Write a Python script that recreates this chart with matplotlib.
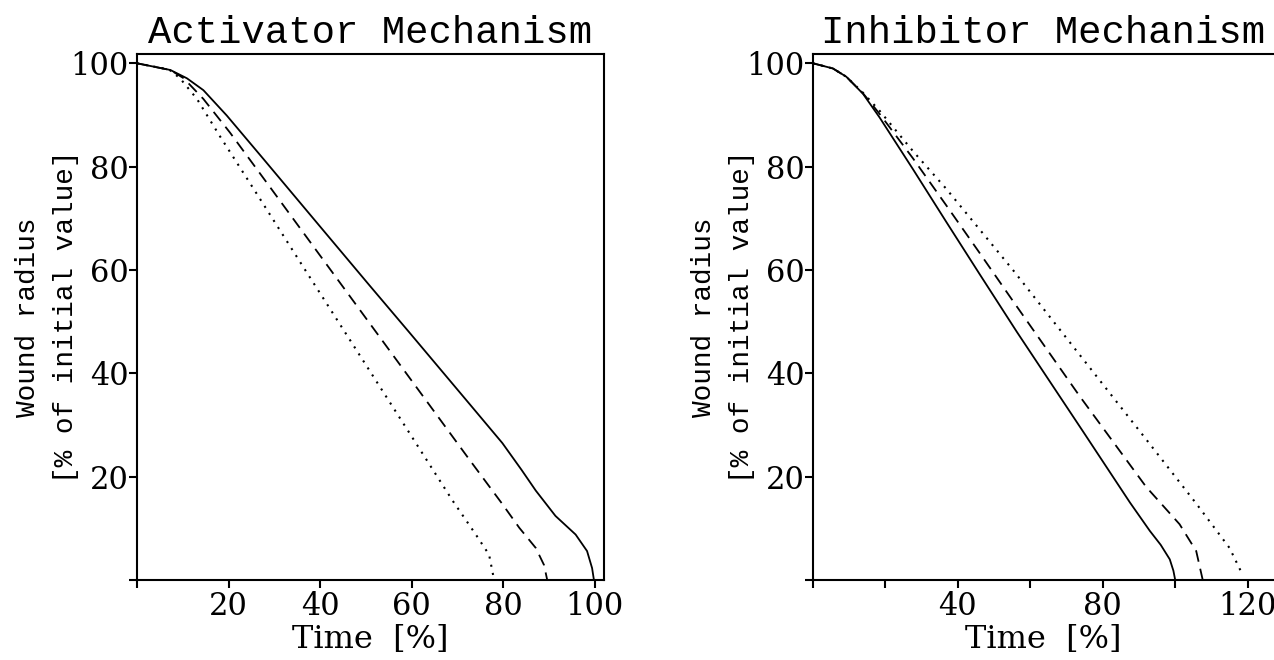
import matplotlib
matplotlib.use("Agg")
from matplotlib import pyplot as plt

# activator mechanism (time %, radius %)
act_solid_t = [0, 7.3, 10.9, 14.5, 19.6, 27.6, 39.9, 50.8, 59.5, 72.6, 79.8, 84.0, 87.1, 91.4, 95.8, 98.3, 99.4, 99.8]
act_solid_r = [100, 98.7, 97.1, 94.8, 89.9, 81.5, 68.5, 57.0, 47.9, 34.1, 26.5, 21.3, 17.3, 12.4, 8.8, 5.6, 2.3, 0]
act_dash_t = [0, 7.3, 10.2, 14.5, 20.3, 29.0, 39.9, 50.8, 61.7, 72.6, 79.8, 83.5, 87.1, 88.9, 89.6]
act_dash_r = [100, 98.7, 97.1, 93.1, 86.6, 76.1, 62.9, 49.7, 36.5, 23.3, 14.7, 10.1, 6.2, 2.9, 0]
act_dot_t = [0, 7.0, 9.4, 13.1, 18.1, 25.4, 36.3, 47.2, 58.1, 68.9, 74.0, 76.9, 78.0]
act_dot_r = [100, 98.8, 97.1, 93.1, 85.9, 75.8, 60.6, 45.5, 30.4, 15.4, 8.8, 4.9, 0]

# inhibitor mechanism
inh_solid_t = [0, 5.5, 9.2, 13.8, 18.4, 27.6, 36.8, 46.0, 56.3, 74.5, 87.5, 93.0, 96.0, 98.5, 99.5, 100]
inh_solid_r = [100, 99.0, 97.4, 94.1, 89.5, 79.5, 69.3, 59.2, 48.0, 28.8, 15.0, 9.5, 6.8, 4.0, 1.8, 0]
inh_dash_t = [0, 5.5, 9.2, 13.8, 18.4, 27.6, 36.8, 46.0, 55.2, 73.6, 92.0, 101.2, 105.8, 107.6]
inh_dash_r = [100, 99.0, 97.4, 94.2, 90.2, 81.6, 72.5, 63.3, 54.0, 35.6, 18.0, 10.8, 5.6, 0]
inh_dot_t = [0, 5.5, 9.2, 13.8, 18.4, 27.6, 36.8, 55.2, 73.6, 92.0, 105.8, 115.0, 118.2]
inh_dot_r = [100, 99.0, 97.4, 94.3, 90.8, 83.0, 75.7, 60.0, 43.6, 27.2, 14.8, 6.2, 1.6]

y_ticks = [0, 20, 40, 60, 80, 100]
y_labels = ["", "20", "40", "60", "80", "100"]
act_x_ticks = [0, 20, 40, 60, 80, 100]
act_x_labels = ["", "20", "40", "60", "80", "100"]
inh_x_ticks = [0, 20, 40, 60, 80, 100, 120]
inh_x_labels = ["", "", "40", "", "80", "", "120"]

mono = "Liberation Mono"
serif = "DejaVu Serif"

fig = plt.figure(figsize=(12.74, 6.6), dpi=100)
ax1 = fig.add_axes([137 / 1274, 80 / 660, 467 / 1274, 526 / 660])
ax2 = fig.add_axes([813 / 1274, 80 / 660, 460 / 1274, 526 / 660])


def style_axes(ax, title, xticks, xlabels, xmax):
    ax.set_xlim(0, xmax)
    ax.set_ylim(0, 101.8)
    ax.set_xticks(xticks)
    ax.set_xticklabels(xlabels, fontfamily=serif, fontsize=22)
    ax.set_yticks(y_ticks)
    ax.set_yticklabels(y_labels, fontfamily=serif, fontsize=22)
    ax.tick_params(direction="out", length=6, width=1.5)
    ax.tick_params(axis="y", pad=0)
    ax.tick_params(axis="x", pad=2)
    for s in ax.spines.values():
        s.set_linewidth(1.5)
    ax.set_title(title, fontfamily=mono, fontsize=28, pad=8)
    ax.set_xlabel("Time  [%]", fontfamily=serif, fontsize=23, labelpad=1)
    ax.set_ylabel("Wound radius\n[% of initial value]", fontfamily=mono,
                  fontsize=20, linespacing=1.6)
    w = ax.get_position().width * 1274
    ax.yaxis.set_label_coords(-58 / w, 0.5)


ax1.plot(act_solid_t, act_solid_r, color="black", lw=1.3)
ax1.plot(act_dash_t, act_dash_r, color="black", lw=1.3, dashes=(6.5, 4))
ax1.plot(act_dot_t, act_dot_r, color="black", lw=1.5, dashes=(1, 3))
style_axes(ax1, "Activator Mechanism", act_x_ticks, act_x_labels, 102)

ax2.plot(inh_solid_t, inh_solid_r, color="black", lw=1.3)
ax2.plot(inh_dash_t, inh_dash_r, color="black", lw=1.3, dashes=(6.5, 4))
ax2.plot(inh_dot_t, inh_dot_r, color="black", lw=1.5, dashes=(1, 3))
style_axes(ax2, "Inhibitor Mechanism", inh_x_ticks, inh_x_labels, 127)
ax2.spines["right"].set_visible(False)

fig.savefig("out.png", dpi=100)
